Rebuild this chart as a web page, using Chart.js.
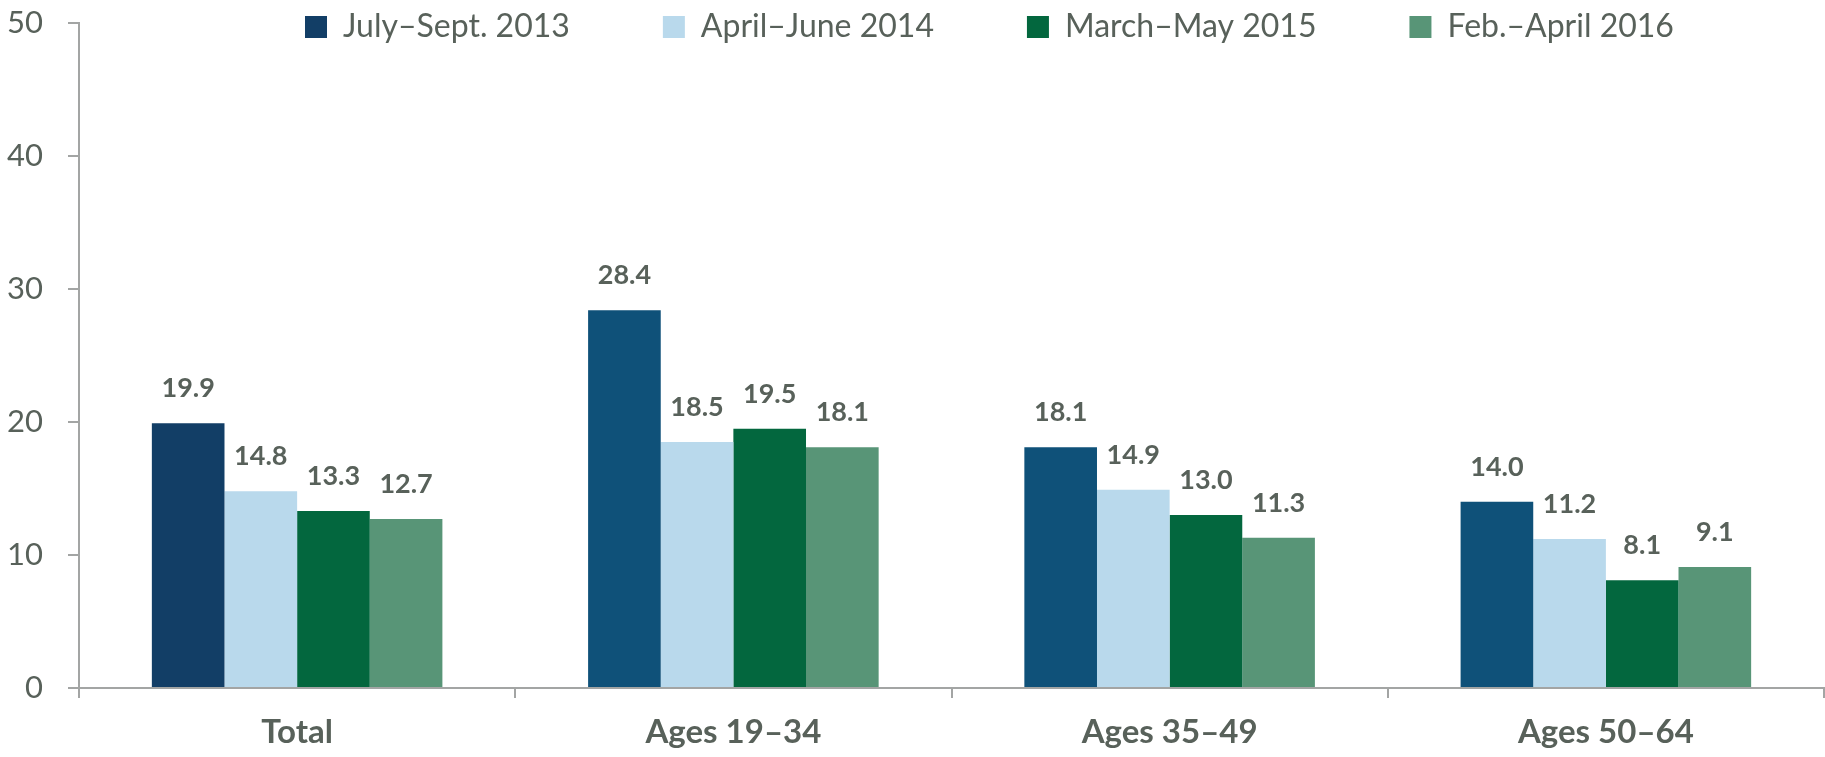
<!DOCTYPE html>
<html>
<head>
<meta charset="utf-8">
<script src="https://cdn.jsdelivr.net/npm/chart.js@4/dist/chart.umd.min.js"></script>
<style>
  html, body { margin: 0; padding: 0; background: #ffffff; }
</style>
</head>
<body>
<canvas id="c" width="1825" height="757"></canvas>
<script>
// ---- data ----
const categories = ['Total', 'Ages 19\u201334', 'Ages 35\u201349', 'Ages 50\u201364'];
const seriesNames = ['July\u2013Sept. 2013', 'April\u2013June 2014', 'March\u2013May 2015', 'Feb.\u2013April 2016'];
const julySept2013 = [19.9, 28.4, 18.1, 14.0];
const aprilJune2014 = [14.8, 18.5, 14.9, 11.2];
const marchMay2015 = [13.3, 19.5, 13.0, 8.1];
const febApril2016 = [12.7, 18.1, 11.3, 9.1];
const yTicks = [0, 10, 20, 30, 40, 50];

// ---- styles ----
const TEXT = '#58615a';
const AXIS = '#a3a5a4';
const FONT = 'Lato, "Open Sans", sans-serif';
const colors = ['#0f5179', '#b9d9ec', '#03673e', '#589577'];
const totalNavy = '#123e66';
const LEGEND_PAD = 93;

const valueLabels = {
  id: 'valueLabels',
  afterDatasetsDraw(chart) {
    const ctx = chart.ctx;
    ctx.save();
    ctx.font = 'bold 27px ' + FONT;
    ctx.fillStyle = TEXT;
    ctx.textAlign = 'center';
    ctx.textBaseline = 'alphabetic';
    chart.data.datasets.forEach((ds, i) => {
      const meta = chart.getDatasetMeta(i);
      meta.data.forEach((bar, j) => {
        ctx.fillText(ds.data[j].toFixed(1), bar.x, bar.y - 26);
      });
    });
    ctx.restore();
  }
};

// place the legend row over the top of the plot, as in the reference
const legendPlacer = {
  id: 'legendPlacer',
  afterLayout(chart) {
    const lg = chart.legend;
    if (!lg) return;
    lg.top = 11 - LEGEND_PAD;
    lg.bottom = 50;
    lg.height = lg.bottom - lg.top;
    lg.left = 305 - LEGEND_PAD;
    lg.right = chart.width;
    lg.width = lg.right - lg.left;
  }
};

const seriesData = [julySept2013, aprilJune2014, marchMay2015, febApril2016];

new Chart(document.getElementById('c'), {
  type: 'bar',
  data: {
    labels: categories,
    datasets: seriesData.map((d, i) => ({
      label: seriesNames[i],
      data: d,
      backgroundColor: i === 0
        ? (ctx) => (ctx.type === 'data' && ctx.dataIndex === 0 ? totalNavy : colors[0])
        : colors[i],
      borderWidth: 0,
      categoryPercentage: 0.666,
      barPercentage: 1.0
    }))
  },
  options: {
    responsive: false,
    animation: false,
    devicePixelRatio: 1,
    layout: { padding: { top: 0, left: 0, right: 1, bottom: 0 } },
    plugins: {
      legend: {
        display: true,
        position: 'top',
        align: 'start',
        maxHeight: 23,
        labels: {
          boxWidth: 22,
          boxHeight: 22,
          padding: LEGEND_PAD,
          color: TEXT,
          font: { family: FONT, size: 32 }
        }
      },
      tooltip: { enabled: false }
    },
    scales: {
      x: {
        afterFit(scale) { scale.height = 69; },
        grid: {
          display: true,
          drawOnChartArea: false,
          drawTicks: true,
          tickLength: 10,
          color: AXIS,
          lineWidth: 2,
          offset: true
        },
        border: { display: true, color: AXIS, width: 2 },
        ticks: {
          color: TEXT,
          padding: 15,
          font: { family: FONT, size: 33, weight: 'bold' }
        }
      },
      y: {
        min: 0,
        max: 50,
        afterFit(scale) {
          scale.width = 79;
          scale.paddingTop = 0;
          scale.paddingBottom = 0;
        },
        afterBuildTicks(scale) { scale.ticks = yTicks.map(v => ({ value: v })); },
        grid: {
          display: true,
          drawOnChartArea: false,
          drawTicks: true,
          tickLength: 11,
          color: AXIS,
          lineWidth: 2
        },
        border: { display: true, color: AXIS, width: 2 },
        ticks: {
          color: TEXT,
          padding: 25,
          font: { family: FONT, size: 31 }
        }
      }
    }
  },
  plugins: [legendPlacer, valueLabels]
});
</script>
</body>
</html>
